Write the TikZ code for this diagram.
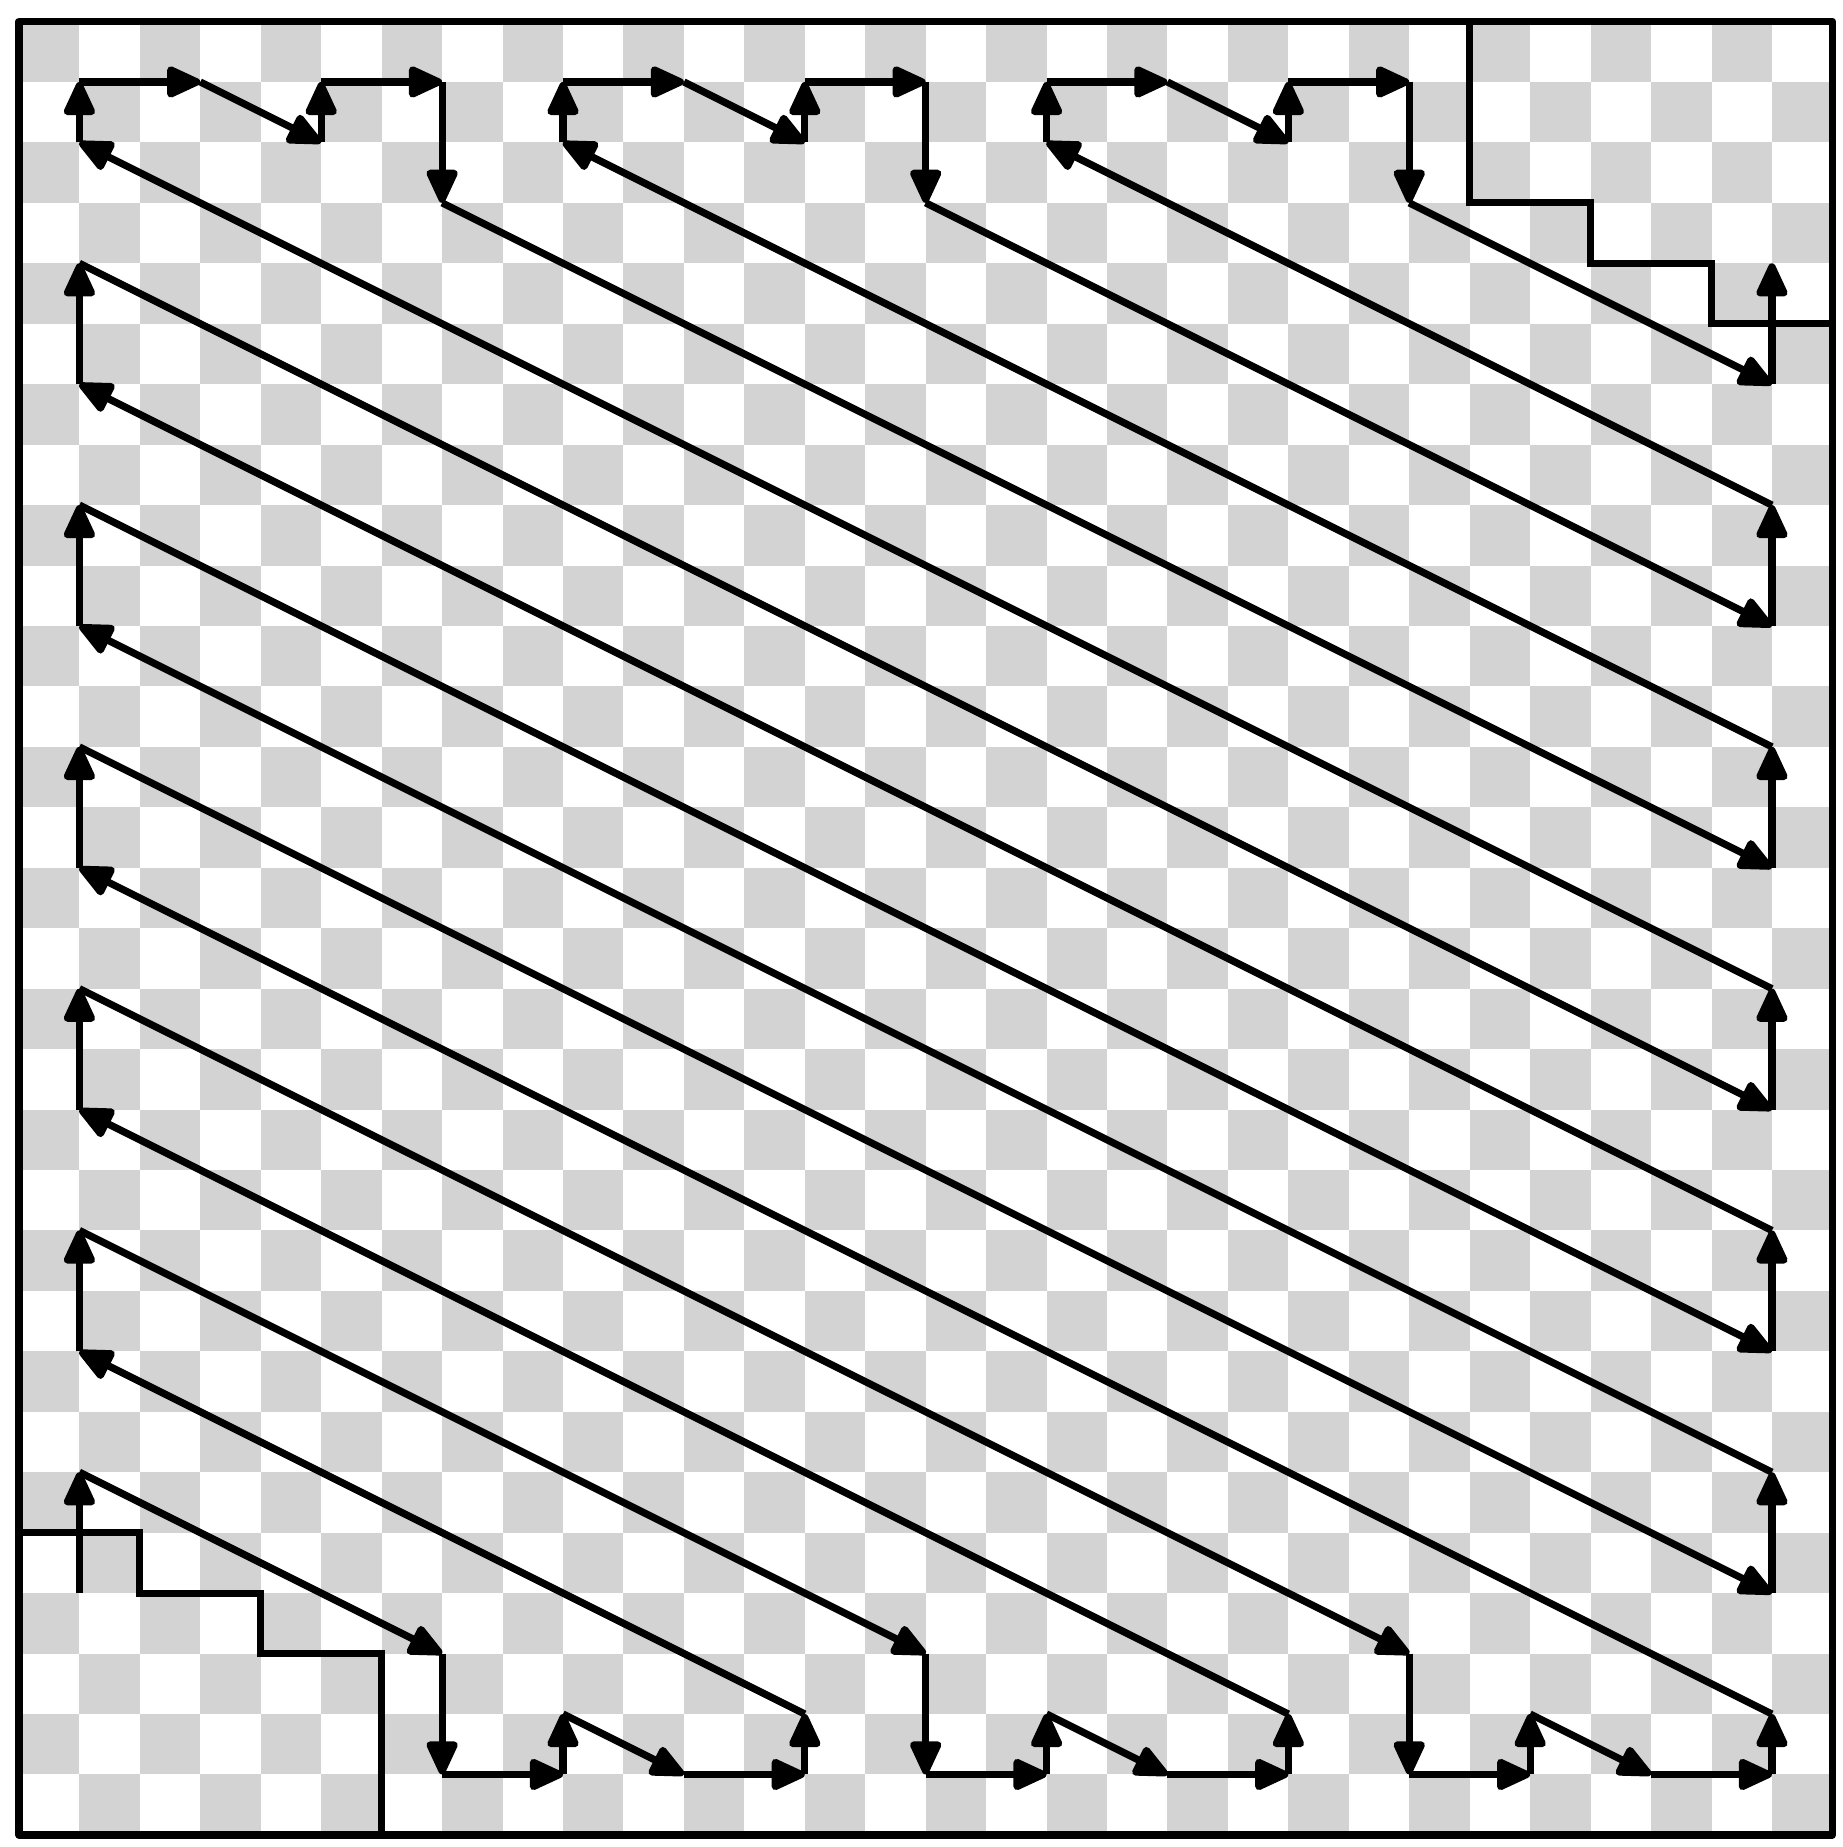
\documentclass[tikz,border=0pt]{standalone}
\usetikzlibrary{arrows.meta}
\definecolor{checkgray}{HTML}{D3D3D3}
\begin{document}
\begin{tikzpicture}[x=1cm,y=-1cm,line width=3.4pt,
  seg/.style={-{Triangle[length=0.64cm,width=0.55cm,round]},line join=round},
  framestyle/.style={line join=round,line cap=round}]
\useasboundingbox (-0.314,-0.356) rectangle (30.165,30.2);
% checkerboard
\foreach \i in {0,...,29}{
  \foreach \j in {0,...,29}{
    \pgfmathtruncatemacro\s{mod(\i+\j,2)}
    \ifnum\s=0 \fill[checkgray] (\i,\j) rectangle ++(1,1);\fi
  }
}
% frame and staircases
\draw[framestyle] (0,0) rectangle (30,30);
\draw[line join=miter] (24,0) -- (24,3) -- (26,3) -- (26,4) -- (28,4) -- (28,5) -- (30,5);
\draw[line join=miter] (0,25) -- (2,25) -- (2,26) -- (4,26) -- (4,27) -- (6,27) -- (6,30);
% path vertices
\foreach \x/\y [count=\n] in {1/26,1/24,7/27,7/29,9/29,9/28,11/29,13/29,13/28,1/22,
  1/20,15/27,15/29,17/29,17/28,19/29,21/29,21/28,1/18,1/16,
  23/27,23/29,25/29,25/28,27/29,29/29,29/28,1/14,1/12,29/26,
  29/24,1/10,1/8,29/22,29/20,1/6,1/4,29/18,29/16,1/2,
  1/1,3/1,5/2,5/1,7/1,7/3,29/14,29/12,9/2,9/1,
  11/1,13/2,13/1,15/1,15/3,29/10,29/8,17/2,17/1,19/1,
  21/2,21/1,23/1,23/3,29/6,29/4}
  \coordinate (v\n) at (\x,\y);
\foreach \i [evaluate=\i as \j using int(\i-1)] in {2,...,66}
  \draw[seg] (v\j) -- (v\i);
\end{tikzpicture}
\end{document}
